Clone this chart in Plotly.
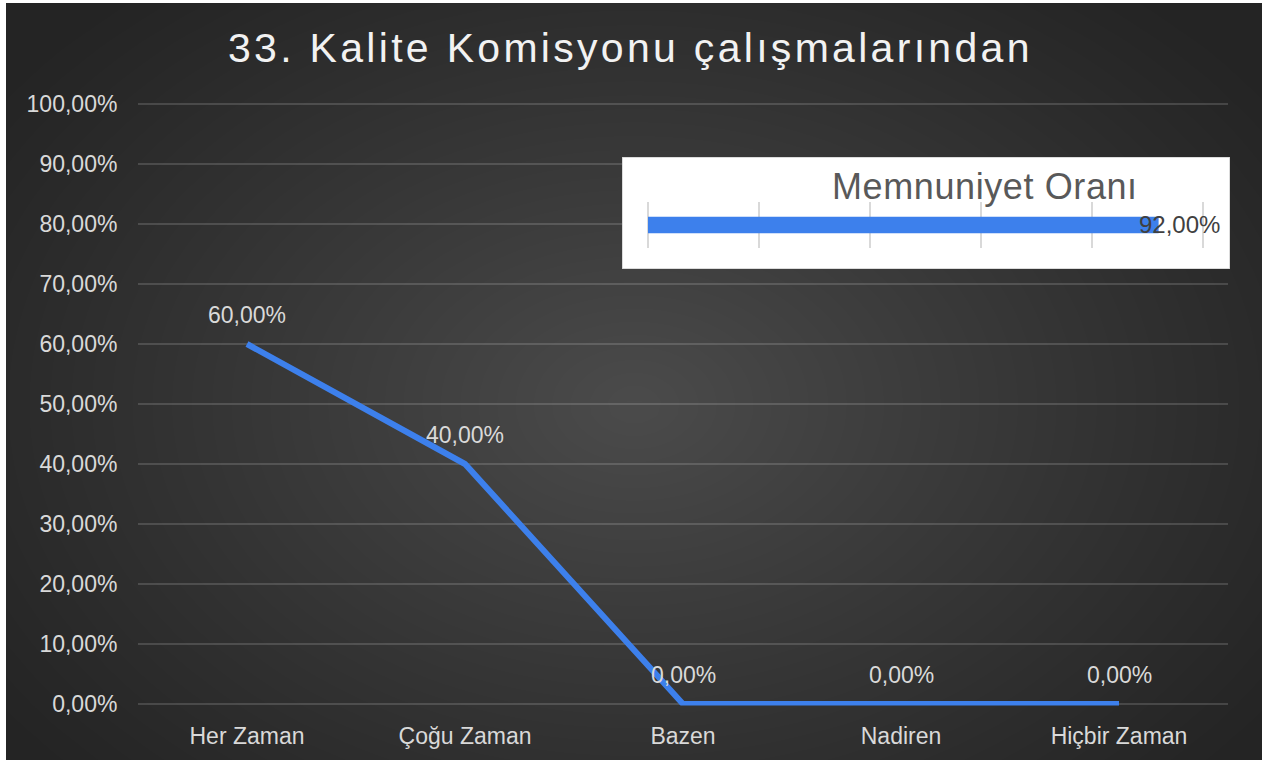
import numpy as np
import plotly.graph_objects as go

W, H = 1264, 760

# ---- chart data -------------------------------------------------------
title_text = "33. Kalite Komisyonu çalışmalarından"
categories = ["Her Zaman", "Çoğu Zaman", "Bazen", "Nadiren", "Hiçbir Zaman"]
percentages = [60.0, 40.0, 0.0, 0.0, 0.0]
y_tick_values = [0, 10, 20, 30, 40, 50, 60, 70, 80, 90, 100]

inset_title = "Memnuniyet Oranı"
satisfaction_rate = [92.0]
inset_tick_values = [0, 20, 40, 60, 80, 100]

# ---- styling ----------------------------------------------------------
BLUE = "#3D80EC"
LABEL = "#D9D9D9"
FONT = "Liberation Sans, Arial, sans-serif"


def pct(v):
    """Turkish style percentage: 60,00%"""
    return f"{v:.2f}".replace(".", ",") + "%"


def fx(px):
    return px / W


def fy(py):
    return 1 - py / H


fig = go.Figure()

# radial backdrop for the dark chart area
gx = np.linspace(0, 1, 90)
gy = np.linspace(0, 1, 60)
GX, GY = np.meshgrid(gx, gy)
rr = np.sqrt(((GX - 0.5) / 0.62) ** 2 + ((GY - 0.47) / 0.72) ** 2)
glow = np.clip(1 - rr, 0, 1) ** 1.1
fig.add_trace(go.Heatmap(
    x=gx, y=gy, z=glow, xaxis="x", yaxis="y",
    colorscale=[[0, "#242424"], [1, "#4B4B4B"]], zmin=0, zmax=1,
    zsmooth="best", showscale=False, hoverinfo="skip",
))

# main line series
fig.add_trace(go.Scatter(
    x=categories, y=percentages, xaxis="x2", yaxis="y2",
    mode="lines", line=dict(color=BLUE, width=6),
    hoverinfo="skip", showlegend=False,
))

# inset: overall satisfaction bar
fig.add_trace(go.Bar(
    x=satisfaction_rate, y=[0], orientation="h", xaxis="x3", yaxis="y3",
    width=0.38, marker=dict(color=BLUE, line=dict(width=0)),
    hoverinfo="skip", showlegend=False,
))

annotations = []
for c, v in zip(categories, percentages):
    annotations.append(dict(
        x=c, y=v, xref="x2", yref="y2", text=pct(v), showarrow=False,
        yshift=29, font=dict(family=FONT, size=23, color=LABEL),
    ))

for v in satisfaction_rate:
    annotations.append(dict(
        x=v, y=0, xref="x3", yref="y3", text=pct(v), showarrow=False,
        xanchor="center", xshift=21, font=dict(family=FONT, size=24, color="#404040"),
    ))

annotations.append(dict(
    x=fx(985), y=fy(186), xref="paper", yref="paper",
    text=f'<span style="letter-spacing:0.6px">{inset_title}</span>',
    showarrow=False, xanchor="center", yanchor="middle",
    font=dict(family=FONT, size=36, color="#595959"),
))

annotations.append(dict(
    x=fx(630), y=fy(48), xref="paper", yref="paper",
    text=f'<span style="letter-spacing:3.3px">{title_text}</span>',
    showarrow=False, xanchor="center", yanchor="middle",
    font=dict(family=FONT, size=41, color="#F2F2F2"),
))

# inset frame and tick marks (inset axis spans the whole white box)
inset_x_range = [(622 - 648) / 5.55, (1230 - 648) / 5.55]
inset_y_range = [-1.0, 1.545]
shapes = [dict(
    type="rect", xref="x3", yref="y3",
    x0=inset_x_range[0], x1=inset_x_range[1],
    y0=inset_y_range[0], y1=inset_y_range[1],
    fillcolor="#FFFFFF", line=dict(color="#D0D0D0", width=1.5), layer="below",
)]
for t in inset_tick_values:
    shapes.append(dict(
        type="line", xref="x3", yref="y3", x0=t, x1=t, y0=-0.52, y1=0.52,
        line=dict(color="#D9D9D9", width=2), layer="below",
    ))

hidden = dict(visible=False, fixedrange=True, automargin=False)

# value axis padded slightly so the 0% and 100% grid lines are kept
Y_PAD = 0.25
PX_PER_PCT = 6.0

fig.update_layout(
    width=W, height=H,
    margin=dict(l=0, r=0, t=0, b=0, pad=0),
    paper_bgcolor="#FFFFFF",
    plot_bgcolor="rgba(0,0,0,0)",
    showlegend=False,
    font=dict(family=FONT, color=LABEL),
    xaxis=dict(domain=[fx(6), fx(1262)], range=[0, 1], **hidden),
    yaxis=dict(domain=[0, fy(3)], range=[0, 1], **hidden),
    xaxis2=dict(
        domain=[fx(138), fx(1228)], anchor="y2", type="category",
        range=[-0.5, len(categories) - 0.5], showgrid=False, zeroline=False,
        showline=False, ticks="outside", ticklen=10, tickcolor="rgba(0,0,0,0)",
        tickfont=dict(family=FONT, size=23, color=LABEL), fixedrange=True,
        automargin=False,
    ),
    yaxis2=dict(
        domain=[fy(704 + Y_PAD * PX_PER_PCT), fy(104 - Y_PAD * PX_PER_PCT)],
        anchor="x2", range=[-Y_PAD, 100 + Y_PAD],
        tickvals=y_tick_values, ticktext=[pct(v) for v in y_tick_values],
        showgrid=True, gridcolor="rgba(255,255,255,0.15)", gridwidth=2,
        zeroline=False, showline=False, ticks="outside", ticklen=15,
        tickcolor="rgba(0,0,0,0)",
        tickfont=dict(family=FONT, size=23, color=LABEL), fixedrange=True,
        automargin=False,
    ),
    xaxis3=dict(domain=[fx(622), fx(1230)], anchor="y3", range=inset_x_range,
                showgrid=False, zeroline=False, showticklabels=False, ticks="",
                fixedrange=True, automargin=False),
    yaxis3=dict(domain=[fy(269), fy(157)], anchor="x3", range=inset_y_range,
                showgrid=False, zeroline=False, showticklabels=False, ticks="",
                fixedrange=True, automargin=False),
    annotations=annotations,
    shapes=shapes,
)

fig.write_html("out.html", config={"displayModeBar": False})
